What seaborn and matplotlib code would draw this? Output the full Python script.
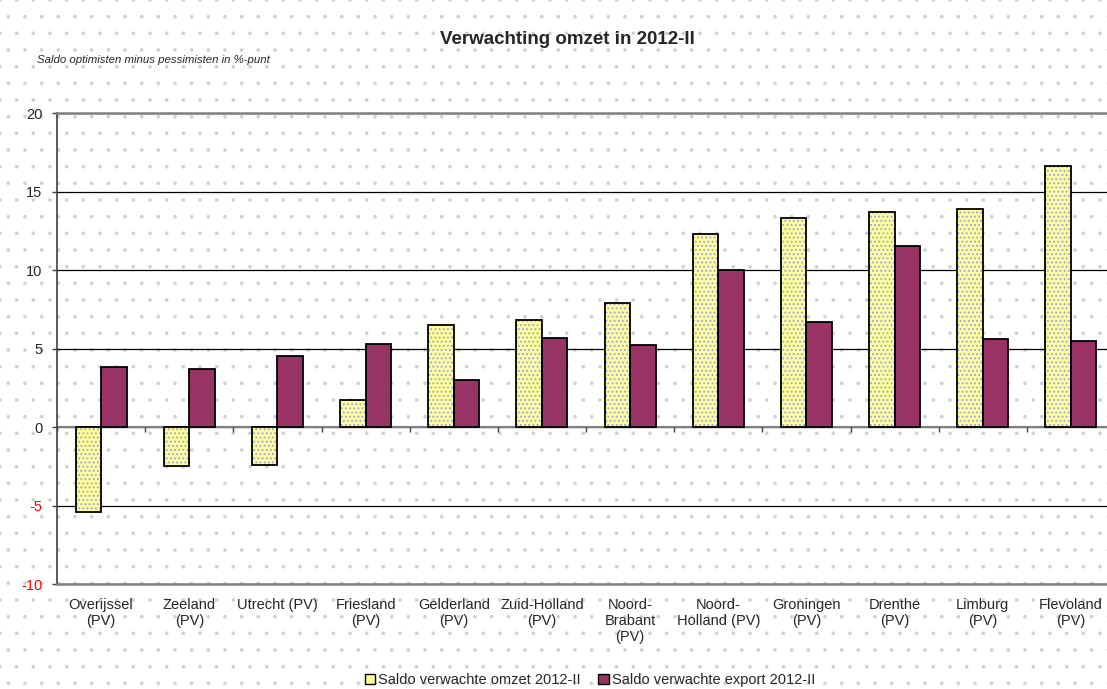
import numpy as np
import pandas as pd
import matplotlib.pyplot as plt
import seaborn as sns
from matplotlib.patches import Rectangle, Patch

# Data
regios = ['Overijssel\n(PV)', 'Zeeland\n(PV)', 'Utrecht (PV)', 'Friesland\n(PV)',
          'Gelderland\n(PV)', 'Zuid-Holland\n(PV)', 'Noord-\nBrabant\n(PV)',
          'Noord-\nHolland (PV)', 'Groningen\n(PV)', 'Drenthe\n(PV)',
          'Limburg\n(PV)', 'Flevoland\n(PV)']
omzet = [-5.4, -2.5, -2.4, 1.7, 6.5, 6.8, 7.9, 12.3, 13.3, 13.7, 13.9, 16.6]
export = [3.8, 3.7, 4.5, 5.3, 3.0, 5.7, 5.2, 10.0, 6.7, 11.5, 5.6, 5.5]
series = ['Saldo verwachte omzet 2012-II', 'Saldo verwachte export 2012-II']
yticks = [-10, -5, 0, 5, 10, 15, 20]

geel = '#FFFF99'
paars = '#993366'

df = pd.DataFrame({
    'regio': regios * 2,
    'serie': [series[0]] * len(regios) + [series[1]] * len(regios),
    'waarde': omzet + export,
})

sns.set_style('white')
plt.rcParams['font.family'] = ['Liberation Sans', 'DejaVu Sans']

fig = plt.figure(figsize=(11.07, 6.89), dpi=100)
fig.patch.set_facecolor('white')
# dotted background (thin hatch)
plt.rcParams['hatch.linewidth'] = 0.2
bg = Rectangle((0, 0), 1, 1, transform=fig.transFigure, fill=False,
               hatch='.', edgecolor='#d0d0d0', lw=0, zorder=-5)
fig.patches.append(bg)

ax = fig.add_axes([57 / 1107, 105 / 689, 1058 / 1107, 471 / 689])
ax.set_facecolor('none')

plt.rcParams['hatch.linewidth'] = 0.9
sns.barplot(data=df, x='regio', y='waarde', hue='serie', palette=[geel, paars],
            width=0.58, saturation=1, edgecolor='black', linewidth=1.3,
            legend=False, ax=ax, zorder=3)

# yellow bars: lavender dots + black outline
for p in ax.containers[0]:
    p.set_hatch('....')
    p.set_edgecolor('#a0a0f0')
    p.set_linewidth(0)
    ax.add_patch(Rectangle(p.get_xy(), p.get_width(), p.get_height(), fill=False,
                           edgecolor='black', lw=1.3, zorder=4))

ax.set_xlim(-0.5, len(regios) - 0.5)
ax.set_ylim(-10, 20)
ax.set_yticks(yticks)
ax.set_yticklabels([str(t) for t in yticks], fontsize=10.5)
for lab, t in zip(ax.get_yticklabels(), yticks):
    if t < 0:
        lab.set_color('red')
ax.tick_params(axis='y', length=3.6, width=1, color='#404040', pad=7, left=True)
ax.tick_params(axis='x', length=0, pad=10, labelsize=10.5)
ax.set_xlabel('')
ax.set_ylabel('')

ax.yaxis.grid(True, color='black', lw=0.9, zorder=1)
ax.axhline(0, color='#808080', lw=1.5, zorder=2)
# category separators at the zero line
ax.vlines(np.arange(len(regios) + 1) - 0.5, 0, -0.35, color='#404040', lw=1, zorder=2)

for s in ['top', 'bottom']:
    ax.spines[s].set_color('#808080')
    ax.spines[s].set_linewidth(1.8)
ax.spines['left'].set_color('#404040')
ax.spines['left'].set_linewidth(1.2)
ax.spines['right'].set_visible(False)

fig.text(567 / 1107, 1 - 40 / 689, 'Verwachting omzet in 2012-II', ha='center',
         va='center', fontsize=13.5, fontweight='bold')
fig.text(37 / 1107, 1 - 60 / 689, 'Saldo optimisten minus pessimisten in %-punt',
         ha='left', va='center', fontsize=8.2, style='italic')

handles = [Patch(facecolor=geel, edgecolor='black', lw=1),
           Patch(facecolor=paars, edgecolor='black', lw=1)]
fig.legend(handles, series, loc='center', bbox_to_anchor=(590 / 1107, 1 - 680 / 689),
           ncol=2, frameon=False, fontsize=10.5, handlelength=0.7, handleheight=0.7,
           handletextpad=0.2, columnspacing=1.2)

fig.savefig('out.png', dpi=100)
